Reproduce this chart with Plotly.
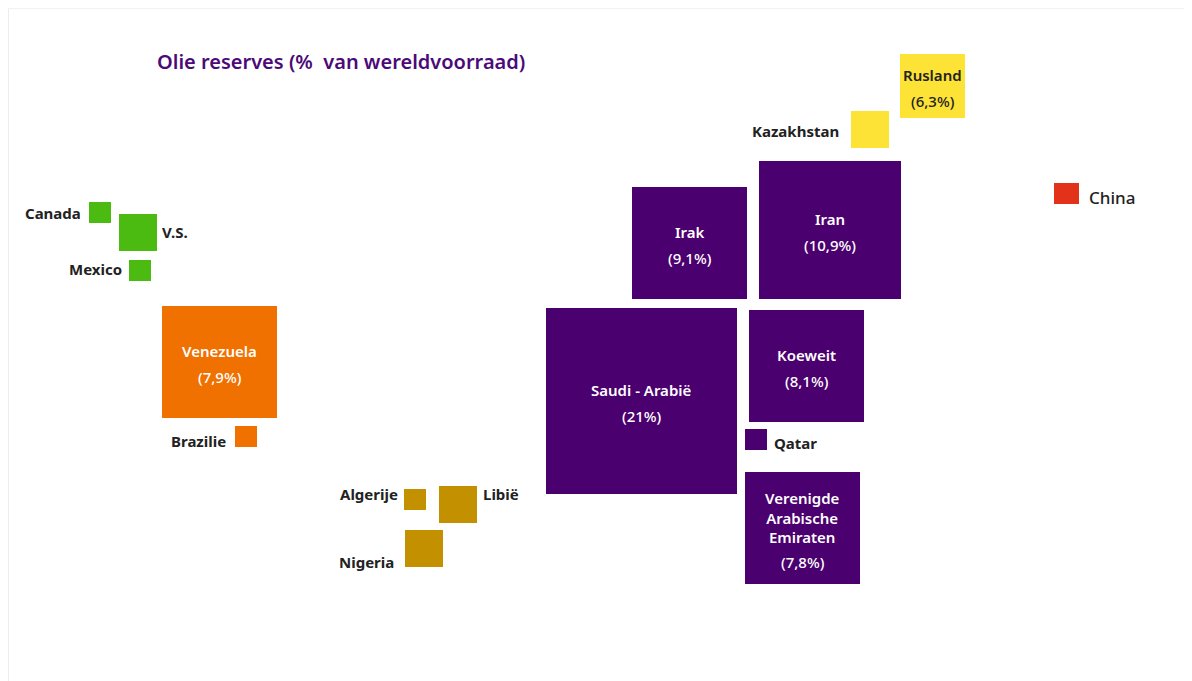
import plotly.graph_objects as go

# schematic "map": every country is a square placed roughly where it lies
countries = [
    "Canada", "V.S.", "Mexico",
    "Venezuela", "Brazilie",
    "Algerije", "Libië", "Nigeria",
    "Saudi - Arabië", "Irak", "Iran", "Koeweit", "Qatar",
    "Verenigde<br>Arabische<br>Emiraten",
    "Kazakhstan", "Rusland", "China",
]
regions = [
    "Noord-Amerika", "Noord-Amerika", "Noord-Amerika",
    "Zuid-Amerika", "Zuid-Amerika",
    "Afrika", "Afrika", "Afrika",
    "Midden-Oosten", "Midden-Oosten", "Midden-Oosten", "Midden-Oosten", "Midden-Oosten",
    "Midden-Oosten",
    "GOS", "GOS", "Azië",
]
# share of world reserves, only printed for the big ones
share = [None, None, None, "7,9", None, None, None, None,
         "21", "9,1", "10,9", "8,1", None, "7,8", None, "6,3", None]

# square edges on the map grid
left = [89, 119, 129, 162, 235, 404, 439, 405, 546, 632, 759, 749, 745, 745, 851, 900, 1054]
right = [111, 157, 151, 277, 257, 426, 477, 443, 737, 747, 901, 864, 767, 860, 889, 965, 1079]
top = [202, 214, 260, 306, 426, 489, 486, 530, 308, 187, 161, 310, 429, 472, 111, 54, 183]
bottom = [223, 251, 281, 418, 447, 510, 523, 567, 494, 299, 299, 422, 450, 584, 148, 118, 204]

REGION_COLORS = {
    "Noord-Amerika": "#4CBB11",
    "Zuid-Amerika": "#F07000",
    "Afrika": "#C39100",
    "Midden-Oosten": "#4A006E",
    "GOS": "#FCE335",
    "Azië": "#E2321A",
}
INSIDE_TEXT = {"Midden-Oosten": "#FFFFFF", "Zuid-Amerika": "#FFFFFF", "GOS": "#222222"}

# outside labels: side of the square, label row, gap to the square
LABEL_SIDE = {
    "Canada": ("left", 213, 6), "V.S.": ("right", 232, 3), "Mexico": ("left", 269, 5),
    "Brazilie": ("left", 441, 7), "Algerije": ("left", 494, 4), "Libië": ("right", 494, 4),
    "Nigeria": ("left", 562, 9), "Qatar": ("right", 443, 5), "Kazakhstan": ("left", 131, 10),
    "China": ("right", 197, 8),
}

FONT = "Noto Sans"
# the page puts the figure 8px in from the window corner
OFF = 8
W, H = 1184, 673

fig = go.Figure()
for reg, color in REGION_COLORS.items():
    idx = [i for i, r in enumerate(regions) if r == reg]
    fig.add_bar(
        x=[(left[i] + right[i]) / 2 for i in idx],
        width=[right[i] - left[i] for i in idx],
        base=[top[i] for i in idx],
        y=[bottom[i] - top[i] for i in idx],
        marker=dict(color=color, line=dict(width=0)),
        name=reg,
        hovertext=[countries[i].replace("<br>", " ") for i in idx],
        hoverinfo="text",
        showlegend=False,
    )

annotations = []
for i, name in enumerate(countries):
    cx = (left[i] + right[i]) / 2
    cy = (top[i] + bottom[i]) / 2
    if share[i] is not None:
        col = INSIDE_TEXT.get(regions[i], "#FFFFFF")
        n = name.count("<br>") + 1
        name_y = cy - 11
        annotations.append(dict(
            x=cx, y=name_y, text=name, showarrow=False, xanchor="center", yanchor="middle",
            font=dict(family=FONT, size=15, color=col, weight=600),
        ))
        annotations.append(dict(
            x=cx, y=name_y + 9.5 * (n - 1) + 26, text=f"({share[i]}%)", showarrow=False,
            xanchor="center", yanchor="middle",
            font=dict(family=FONT, size=15, color=col, weight=500),
        ))
    else:
        side, ly, gap = LABEL_SIDE[name]
        big = name == "China"
        annotations.append(dict(
            x=left[i] - gap if side == "left" else right[i] + gap,
            y=ly, text=name, showarrow=False,
            xanchor="right" if side == "left" else "left", yanchor="middle",
            font=dict(family=FONT, size=17 if big else 15, color="#222222",
                      weight=500 if big else 700),
        ))

annotations.append(dict(
    x=155, y=61, text="Olie reserves (%&nbsp; van wereldvoorraad)", showarrow=False,
    xanchor="left", yanchor="middle",
    font=dict(family=FONT, size=20, color="#4B0A78", weight=600),
))

fig.update_layout(
    width=W, height=H,
    margin=dict(l=0, r=0, t=0, b=0),
    paper_bgcolor="#FFFFFF",
    plot_bgcolor="rgba(0,0,0,0)",
    barmode="overlay",
    bargap=0,
    annotations=annotations,
    shapes=[
        dict(type="rect", xref="x", yref="y", x0=1188, x1=1200, y0=0, y1=700,
             fillcolor="#E6E6E6", line=dict(width=0), layer="below"),
        dict(type="line", xref="x", yref="y", x0=OFF + 0.5, x1=OFF + 0.5, y0=OFF, y1=700,
             line=dict(color="#EDEDED", width=1), layer="below"),
        dict(type="line", xref="x", yref="y", x0=OFF, x1=1188, y0=OFF + 0.5, y1=OFF + 0.5,
             line=dict(color="#F2F2F2", width=1), layer="below"),
    ],
)
fig.update_xaxes(range=[OFF, OFF + W], visible=False, fixedrange=True)
fig.update_yaxes(range=[OFF + H, OFF], visible=False, fixedrange=True)

fig.write_html("out.html", config={"displayModeBar": False})
